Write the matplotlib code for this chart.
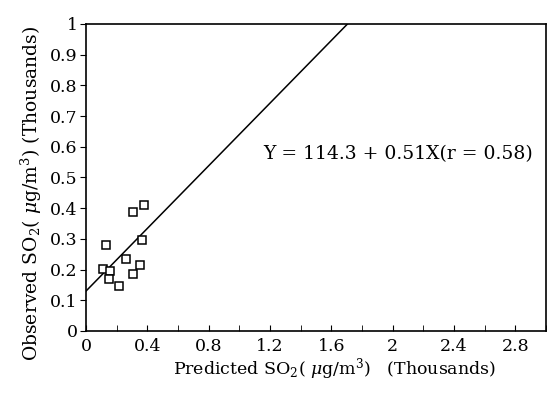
import matplotlib
matplotlib.use('Agg')
import matplotlib.pyplot as plt
import numpy as np

plt.rcParams['font.family'] = ['DejaVu Serif']
plt.rcParams['mathtext.fontset'] = 'dejavuserif'

# predicted vs observed SO2, thousands ug/m3
predicted = [0.130, 0.305, 0.378, 0.363, 0.109, 0.157, 0.152, 0.263, 0.352, 0.305, 0.215]
observed = [0.280, 0.387, 0.411, 0.295, 0.201, 0.196, 0.170, 0.234, 0.216, 0.186, 0.146]

fit_intercept = 0.13
fit_slope = 0.51
equation = 'Y = 114.3 + 0.51X(r = 0.58)'

xticks = [0, 0.4, 0.8, 1.2, 1.6, 2, 2.4, 2.8]
xtick_labels = ['0', '0.4', '0.8', '1.2', '1.6', '2', '2.4', '2.8']
yticks = [0, 0.1, 0.2, 0.3, 0.4, 0.5, 0.6, 0.7, 0.8, 0.9, 1]
ytick_labels = ['0', '0.1', '0.2', '0.3', '0.4', '0.5', '0.6', '0.7', '0.8', '0.9', '1']

fig = plt.figure(figsize=(5.57, 3.93), dpi=100)
ax = fig.add_axes([0.1544, 0.1578, 0.8256, 0.7812])

xs = np.array([0, 3])
ys = fit_intercept + fit_slope * xs
ax.plot(xs, ys, color='black', lw=1.1)
ax.plot(predicted, observed, ls='none', marker='s', ms=6, mfc='white', mec='black', mew=1.1)

ax.set_xlim(0, 3)
ax.set_ylim(0, 1)
ax.set_xticks(xticks)
ax.set_xticklabels(xtick_labels)
ax.set_xticks(np.arange(0, 3.01, 0.2), minor=True)
ax.set_yticks(yticks)
ax.set_yticklabels(ytick_labels)
ax.tick_params(axis='x', direction='in', length=4, labelsize=12.5, pad=5)
ax.tick_params(axis='x', which='minor', direction='in', length=4)
ax.tick_params(axis='y', direction='out', length=4, labelsize=12.5, pad=2)
for s in ax.spines.values():
    s.set_linewidth(1.2)

ax.text(1.155, 0.577, equation, fontsize=13.5, va='center', ha='left')

ax.set_xlabel('Predicted SO$_2$( $\\mu$g/m$^3$)   (Thousands)', fontsize=12.5, labelpad=1, x=0.54)
ax.set_ylabel('Observed SO$_2$( $\\mu$g/m$^3$) (Thousands)', fontsize=13.5, labelpad=4, y=0.45)

fig.savefig('out.png', dpi=100)
